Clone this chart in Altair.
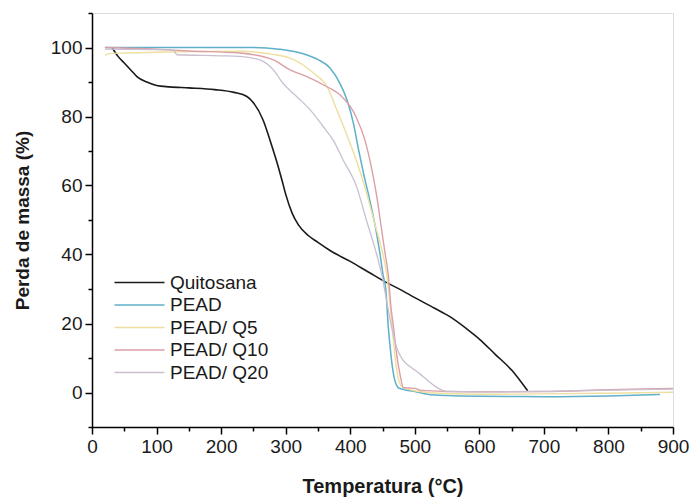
import altair as alt
import pandas as pd

# ---- data ----
series_names = ["Quitosana", "PEAD", "PEAD/ Q5", "PEAD/ Q10", "PEAD/ Q20"]
series_colors = ["#1a1a1a", "#5fb0c8", "#eedfa0", "#dc9ea4", "#c9bfd0"]
series_widths = [1.6, 1.3, 1.2, 1.2, 1.2]

quit_T = [31, 40, 50, 60, 70, 85, 100, 120, 150, 190, 220, 240, 250, 265, 276, 286, 295, 300, 310,
          320, 335, 350, 370, 400, 430, 455, 480, 500, 530, 555, 580, 600, 625, 650, 665, 675]
quit_v = [100, 97.5, 95.5, 93.5, 91.5, 90, 89, 88.6, 88.3, 87.8, 87, 85.8, 84, 79, 73, 67, 61, 57.5, 52,
          48.5, 45.5, 43.5, 41, 38, 34.7, 32, 29.6, 27.5, 24.5, 21.9, 18.5, 15.5, 11, 6.5, 3, 0.5]

pead_T = [20, 100, 200, 250, 290, 332, 350, 369, 384, 395, 405, 413, 420, 430, 440, 446, 451, 455,
          459, 463, 467, 474, 480, 490, 500, 520, 550, 600, 700, 800, 880]
pead_v = [100, 100, 100, 100, 99.5, 97.9, 96.5, 94, 89.6, 84.8, 78, 70.3, 64, 56, 47, 40.3, 34, 30,
          19, 11, 5.4, 1.5, 1.0, 0.6, 0.3, -0.5, -0.9, -1.1, -1.2, -1.0, -0.6]

q5_T = [20, 30, 50, 100, 150, 229, 280, 307, 343, 364, 379, 394, 410, 425, 438, 448, 456, 462, 467,
        471, 476, 482, 495, 510, 550, 600, 700, 800, 900]
q5_v = [97.8, 98.3, 98.4, 98.6, 98.8, 98.9, 98, 96.9, 92.6, 88.7, 82, 75, 67, 58, 49, 42, 35, 25, 15,
        8, 3, 1.5, 0.7, 0.2, -0.3, -0.5, -0.4, -0.2, 0.1]

q10_T = [20, 100, 150, 229, 281, 307, 332, 363, 384, 400, 410, 423, 432, 441, 448, 454, 459, 463,
         467, 472, 477, 482, 490, 500, 510, 550, 600, 700, 800, 900]
q10_v = [100, 99.5, 99, 98.4, 96.4, 93.5, 91.6, 88.7, 86.3, 82.9, 79.5, 73, 66, 57, 48, 40.3, 34, 25,
         19, 11, 5.4, 1.5, 1.3, 1.2, 0.6, 0.3, 0.2, 0.3, 0.8, 1.2]

q20_T = [20, 125, 132, 200, 229, 260, 281, 296, 317, 338, 358, 374, 389, 410, 425, 441, 449, 456,
         463, 472, 482, 495, 508, 520, 534, 545, 555, 600, 700, 800, 900]
q20_v = [99.5, 99.3, 97.9, 97.6, 97.4, 96.4, 93.5, 89.6, 85.8, 81.9, 77.1, 73, 67.4, 59.6, 50, 40, 34, 27,
         20, 13, 9.3, 7.2, 5.4, 3.5, 1.5, 0.5, 0.3, 0.2, 0.3, 0.7, 1.0]

x_ticks = list(range(0, 901, 50))
y_ticks = list(range(-10, 111, 10))

all_T = [quit_T, pead_T, q5_T, q10_T, q20_T]
all_v = [quit_v, pead_v, q5_v, q10_v, q20_v]

rows = []
for name, Ts, vs in zip(series_names, all_T, all_v):
    for i, (t, v) in enumerate(zip(Ts, vs)):
        rows.append({"serie": name, "T": t, "v": v, "ord": i})
df = pd.DataFrame(rows)

FONT = "Liberation Sans"
FS = 19

chart = alt.Chart(df).mark_line(interpolate="monotone").encode(
    x=alt.X("T:Q", scale=alt.Scale(domain=[0, 900], nice=False, zero=False),
            axis=alt.Axis(values=x_ticks, title="Temperatura (°C)",
                          labelExpr="datum.value % 100 === 0 ? datum.label : ''",
                          tickSize={"condition": {"test": "datum.value % 100 === 0", "value": 7}, "value": 4},
                          grid=False, domainColor="black", tickColor="black", domainWidth=1.5,
                          tickWidth=1.5, labelFontSize=FS, labelColor="#1a1a1a", labelPadding=3,
                          titleFontSize=20, titleFontWeight="bold", titlePadding=20,
                          titleColor="#1a1a1a", labelFlush=False, format="d")),
    y=alt.Y("v:Q", scale=alt.Scale(domain=[-10, 110], nice=False, zero=False),
            axis=alt.Axis(values=y_ticks, title="Perda de massa (%)",
                          labelExpr="datum.value % 20 === 0 && datum.value >= 0 && datum.value <= 100 ? datum.label : ''",
                          tickSize={"condition": {"test": "datum.value % 20 === 0", "value": 7}, "value": 4},
                          grid=False, domainColor="black", tickColor="black", domainWidth=1.5,
                          tickWidth=1.5, labelFontSize=FS, labelColor="#1a1a1a", labelPadding=3,
                          titleFontSize=19, titleFontWeight="bold", titlePadding=18,
                          titleColor="#1a1a1a", format="d")),
    color=alt.Color("serie:N", sort=series_names,
                    scale=alt.Scale(domain=series_names, range=series_colors),
                    legend=alt.Legend(orient="none", legendX=23, legendY=260, title=None,
                                      symbolType="M-5,0L5,0", symbolSize=100,
                                      symbolStrokeWidth=1.5, symbolOffset=15,
                                      labelFontSize=FS, labelFont=FONT, labelColor="#1a1a1a",
                                      rowPadding=2.5, labelOffset=21, padding=0)),
    strokeWidth=alt.StrokeWidth("serie:N", sort=series_names,
                                scale=alt.Scale(domain=series_names, range=series_widths),
                                legend=None),
    order="ord:Q",
).properties(
    width=581, height=414,
    autosize=alt.AutoSizeParams(type="none"),
    padding={"left": 92, "top": 13, "right": 19, "bottom": 71},
).configure_view(
    stroke="#666666", strokeWidth=1
).configure_axis(
    labelFont=FONT, titleFont=FONT
).configure(background="white")

chart.save("out.html", embed_options={"renderer": "svg", "actions": False})
